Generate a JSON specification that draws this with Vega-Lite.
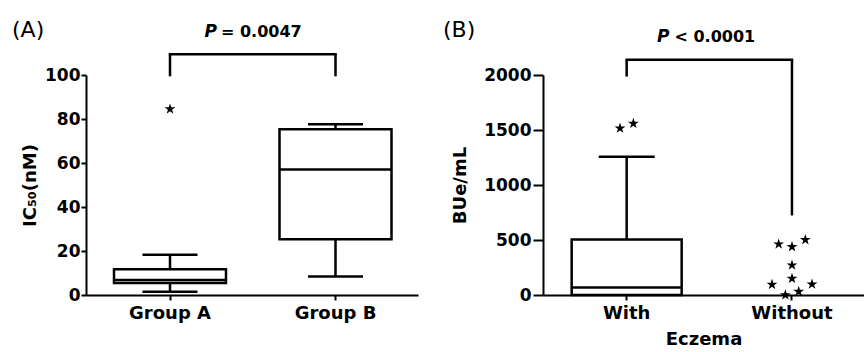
{
  "$schema": "https://vega.github.io/schema/vega-lite/v6.json",
  "background": "white",
  "padding": {"left": 12, "top": 18, "right": 0, "bottom": 0},
  "bounds": "flush",
  "spacing": 125,
  "config": {
    "view": {"stroke": null},
    "font": "DejaVu Sans",
    "axis": {
      "grid": false,
      "domainColor": "black",
      "domainWidth": 2,
      "tickColor": "black",
      "tickWidth": 2,
      "labelColor": "black",
      "labelFont": "DejaVu Sans",
      "labelFontWeight": "bold",
      "titleFont": "DejaVu Sans",
      "titleFontWeight": "bold",
      "titleFontSize": 18,
      "titleColor": "black"
    },
    "axisX": {"tickSize": 5, "labelPadding": 4, "labelAngle": 0, "labelFontSize": 18},
    "axisY": {"labelFontSize": 17, "labelPadding": 1},
    "title": {"font": "DejaVu Sans", "fontWeight": "normal", "fontSize": 22, "color": "black", "anchor": "start", "frame": "group"}
  },
  "datasets": {
    "boxA": [
      {"group": "Group A", "lower": 1.5, "q1": 5.5, "median": 6.8, "q3": 11.7, "upper": 18.3},
      {"group": "Group B", "lower": 8.4, "q1": 25.3, "median": 57, "q3": 75.3, "upper": 77.6}
    ],
    "outA": [{"group": "Group A", "value": 84.5}],
    "legA": [
      {"group": "Group A", "y1": 99.4, "y2": 109.4},
      {"group": "Group B", "y1": 99.4, "y2": 109.4}
    ],
    "topA": [{"group": "Group A", "group2": "Group B", "y": 109.4}],
    "annA": [{"label": "P", "y": 117.2}, {"label": "= 0.0047", "y": 117.2}],
    "boxB": [
      {"group": "With", "lower": 0, "q1": 0, "median": 68, "q3": 505, "upper": 1257}
    ],
    "outB": [
      {"group": "With", "value": 1516, "col": -1},
      {"group": "With", "value": 1559, "col": 1},
      {"group": "Without", "value": 462, "col": -2},
      {"group": "Without", "value": 438, "col": 0},
      {"group": "Without", "value": 502, "col": 2},
      {"group": "Without", "value": 271, "col": 0},
      {"group": "Without", "value": 150, "col": 0},
      {"group": "Without", "value": 95, "col": -3},
      {"group": "Without", "value": 98, "col": 3},
      {"group": "Without", "value": 0, "col": -1},
      {"group": "Without", "value": 32, "col": 1}
    ],
    "legB": [
      {"group": "With", "y1": 1986, "y2": 2138},
      {"group": "Without", "y1": 723, "y2": 2138}
    ],
    "topB": [{"group": "With", "group2": "Without", "y": 2138}],
    "annB": [{"label": "P", "y": 2302}, {"label": "< 0.0001", "y": 2302}]
  },
  "hconcat": [
    {
      "width": 332,
      "height": 220,
      "title": {"text": "(A)", "dx": -74, "offset": -35.4, "baseline": "alphabetic"},
      "encoding": {
        "x": {
          "field": "group",
          "type": "nominal",
          "title": null,
          "scale": {"type": "band", "domain": ["Group A", "Group B"], "paddingInner": 0.32, "paddingOuter": 0.163, "align": 0.514}
        }
      },
      "layer": [
        {
          "data": {"name": "boxA"},
          "mark": {"type": "rule", "strokeWidth": 2.5, "color": "black"},
          "encoding": {
            "y": {"field": "lower", "type": "quantitative", "title": "IC₅₀(nM)",
                  "scale": {"domain": [0, 100], "nice": false},
                  "axis": {"values": [0, 20, 40, 60, 80, 100], "titlePadding": 5, "tickSize": 5}},
            "y2": {"field": "q1"}
          }
        },
        {
          "data": {"name": "boxA"},
          "mark": {"type": "rule", "strokeWidth": 2.5, "color": "black"},
          "encoding": {
            "y": {"field": "q3", "type": "quantitative", "title": "IC₅₀(nM)"},
            "y2": {"field": "upper"}
          }
        },
        {
          "data": {"name": "boxA"},
          "mark": {"type": "bar", "fill": "white", "stroke": "black", "strokeWidth": 2.5, "size": 112},
          "encoding": {
            "y": {"field": "q1", "type": "quantitative", "title": "IC₅₀(nM)"},
            "y2": {"field": "q3"}
          }
        },
        {
          "data": {"name": "boxA"},
          "mark": {"type": "tick", "size": 112, "thickness": 2.5, "color": "black", "opacity": 1},
          "encoding": {"y": {"field": "median", "type": "quantitative", "title": "IC₅₀(nM)"}}
        },
        {
          "data": {"name": "boxA"},
          "mark": {"type": "tick", "size": 55, "thickness": 2.5, "color": "black", "opacity": 1},
          "encoding": {"y": {"field": "upper", "type": "quantitative", "title": "IC₅₀(nM)"}}
        },
        {
          "data": {"name": "boxA"},
          "mark": {"type": "tick", "size": 55, "thickness": 2.5, "color": "black", "opacity": 1},
          "encoding": {"y": {"field": "lower", "type": "quantitative", "title": "IC₅₀(nM)"}}
        },
        {
          "data": {"name": "outA"},
          "mark": {"type": "point", "filled": true, "color": "black", "opacity": 1, "size": 130, "strokeWidth": 0,
                   "shape": "M0,-1L0.2245,-0.309L0.951,-0.309L0.363,0.118L0.588,0.809L0,0.382L-0.588,0.809L-0.363,0.118L-0.951,-0.309L-0.2245,-0.309Z"},
          "encoding": {"y": {"field": "value", "type": "quantitative", "title": "IC₅₀(nM)"}}
        },
        {
          "data": {"name": "legA"},
          "mark": {"type": "rule", "strokeWidth": 2.5, "color": "black"},
          "encoding": {
            "y": {"field": "y1", "type": "quantitative", "title": "IC₅₀(nM)"},
            "y2": {"field": "y2"}
          }
        },
        {
          "data": {"name": "topA"},
          "mark": {"type": "rule", "strokeWidth": 2.5, "color": "black", "strokeCap": "square"},
          "encoding": {
            "x2": {"field": "group2"},
            "y": {"field": "y", "type": "quantitative", "title": "IC₅₀(nM)"}
          }
        },
        {
          "data": {"name": "annA"},
          "transform": [{"filter": "datum.label == 'P'"}],
          "mark": {"type": "text", "fontWeight": "bold", "fontStyle": "italic", "fontSize": 17, "align": "right", "baseline": "alphabetic", "dx": -35, "color": "black"},
          "encoding": {
            "x": {"value": {"expr": "concat_0_width/2"}},
            "y": {"field": "y", "type": "quantitative", "title": "IC₅₀(nM)"},
            "text": {"field": "label"}
          }
        },
        {
          "data": {"name": "annA"},
          "transform": [{"filter": "datum.label != 'P'"}],
          "mark": {"type": "text", "fontWeight": "bold", "fontSize": 16, "align": "left", "baseline": "alphabetic", "dx": -31, "color": "black"},
          "encoding": {
            "x": {"value": {"expr": "concat_0_width/2"}},
            "y": {"field": "y", "type": "quantitative", "title": "IC₅₀(nM)"},
            "text": {"field": "label"}
          }
        }
      ]
    },
    {
      "width": 321,
      "height": 220,
      "title": {"text": "(B)", "dx": -100, "offset": -30.8, "baseline": "alphabetic"},
      "encoding": {
        "x": {
          "field": "group",
          "type": "nominal",
          "title": "Eczema",
          "scale": {"type": "band", "domain": ["With", "Without"], "paddingInner": 0.335, "paddingOuter": 0.1385, "align": 0.627},
          "axis": {"titlePadding": 8}
        }
      },
      "layer": [
        {
          "data": {"name": "boxB"},
          "mark": {"type": "rule", "strokeWidth": 2.5, "color": "black"},
          "encoding": {
            "y": {"field": "lower", "type": "quantitative", "title": "BUe/mL",
                  "scale": {"domain": [0, 2000], "nice": false},
                  "axis": {"values": [0, 500, 1000, 1500, 2000], "format": "d", "titlePadding": 14, "tickSize": 10, "labelPadding": 2}},
            "y2": {"field": "q1"}
          }
        },
        {
          "data": {"name": "boxB"},
          "mark": {"type": "rule", "strokeWidth": 2.5, "color": "black"},
          "encoding": {
            "y": {"field": "q3", "type": "quantitative", "title": "BUe/mL"},
            "y2": {"field": "upper"}
          }
        },
        {
          "data": {"name": "boxB"},
          "mark": {"type": "bar", "fill": "white", "stroke": "black", "strokeWidth": 2.5, "size": 110},
          "encoding": {
            "y": {"field": "q1", "type": "quantitative", "title": "BUe/mL"},
            "y2": {"field": "q3"}
          }
        },
        {
          "data": {"name": "boxB"},
          "mark": {"type": "tick", "size": 110, "thickness": 2.5, "color": "black", "opacity": 1},
          "encoding": {"y": {"field": "median", "type": "quantitative", "title": "BUe/mL"}}
        },
        {
          "data": {"name": "boxB"},
          "mark": {"type": "tick", "size": 56, "thickness": 2.5, "color": "black", "opacity": 1},
          "encoding": {"y": {"field": "upper", "type": "quantitative", "title": "BUe/mL"}}
        },
        {
          "data": {"name": "outB"},
          "mark": {"type": "point", "filled": true, "color": "black", "opacity": 1, "size": 130, "strokeWidth": 0,
                   "shape": "M0,-1L0.2245,-0.309L0.951,-0.309L0.363,0.118L0.588,0.809L0,0.382L-0.588,0.809L-0.363,0.118L-0.951,-0.309L-0.2245,-0.309Z"},
          "encoding": {
            "y": {"field": "value", "type": "quantitative", "title": "BUe/mL"},
            "xOffset": {"field": "col", "type": "quantitative", "scale": {"domain": [-3, 3], "range": [35, 75]}}
          }
        },
        {
          "data": {"name": "legB"},
          "mark": {"type": "rule", "strokeWidth": 2.5, "color": "black"},
          "encoding": {
            "y": {"field": "y1", "type": "quantitative", "title": "BUe/mL"},
            "y2": {"field": "y2"}
          }
        },
        {
          "data": {"name": "topB"},
          "mark": {"type": "rule", "strokeWidth": 2.5, "color": "black", "strokeCap": "square"},
          "encoding": {
            "x2": {"field": "group2"},
            "y": {"field": "y", "type": "quantitative", "title": "BUe/mL"}
          }
        },
        {
          "data": {"name": "annB"},
          "transform": [{"filter": "datum.label == 'P'"}],
          "mark": {"type": "text", "fontWeight": "bold", "fontStyle": "italic", "fontSize": 17, "align": "right", "baseline": "alphabetic", "dx": -34, "color": "black"},
          "encoding": {
            "x": {"value": {"expr": "concat_1_width/2"}},
            "y": {"field": "y", "type": "quantitative", "title": "BUe/mL"},
            "text": {"field": "label"}
          }
        },
        {
          "data": {"name": "annB"},
          "transform": [{"filter": "datum.label != 'P'"}],
          "mark": {"type": "text", "fontWeight": "bold", "fontSize": 16, "align": "left", "baseline": "alphabetic", "dx": -29, "color": "black"},
          "encoding": {
            "x": {"value": {"expr": "concat_1_width/2"}},
            "y": {"field": "y", "type": "quantitative", "title": "BUe/mL"},
            "text": {"field": "label"}
          }
        }
      ]
    }
  ]
}
